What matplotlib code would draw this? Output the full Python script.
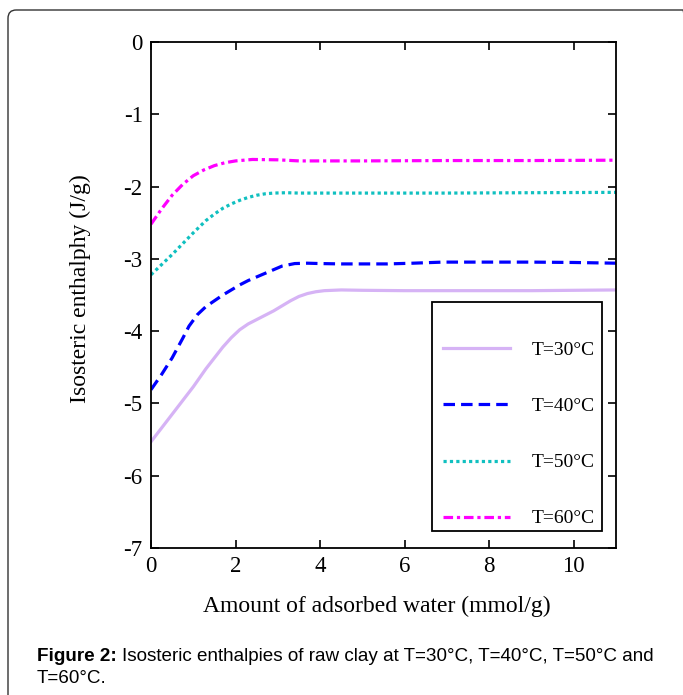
import numpy as np
import matplotlib.pyplot as plt
from matplotlib.patches import FancyBboxPatch, Rectangle

# 读数据
x30 = [0, 0.25, 0.5, 0.75, 1.0, 1.3, 1.5, 1.7, 1.9, 2.1, 2.3, 2.5, 2.7, 2.9, 3.1, 3.3, 3.5, 3.7, 3.9, 4.1, 4.5, 5, 6, 7, 8, 9, 10, 11]
y30 = [-5.53, -5.34, -5.15, -4.96, -4.77, -4.52, -4.37, -4.22, -4.09, -3.98, -3.90, -3.84, -3.78, -3.72, -3.65, -3.58, -3.52, -3.48, -3.455, -3.44, -3.43, -3.435, -3.44, -3.44, -3.44, -3.44, -3.435, -3.43]

x40 = [0, 0.25, 0.5, 0.75, 0.9, 1.1, 1.3, 1.5, 1.7, 1.9, 2.1, 2.3, 2.5, 2.7, 2.9, 3.1, 3.4, 3.7, 4.0, 4.5, 5.6, 6.2, 6.9, 8, 9, 10, 11]
y40 = [-4.81, -4.60, -4.37, -4.10, -3.93, -3.77, -3.66, -3.58, -3.50, -3.43, -3.36, -3.30, -3.25, -3.20, -3.15, -3.10, -3.065, -3.06, -3.065, -3.07, -3.07, -3.06, -3.045, -3.045, -3.045, -3.05, -3.06]

x50 = [0, 0.25, 0.5, 0.75, 1.0, 1.3, 1.5, 1.7, 1.9, 2.1, 2.3, 2.5, 2.7, 2.9, 3.2, 3.5, 5, 7, 9, 11]
y50 = [-3.22, -3.08, -2.94, -2.79, -2.64, -2.47, -2.38, -2.30, -2.24, -2.19, -2.15, -2.12, -2.10, -2.09, -2.085, -2.09, -2.09, -2.09, -2.085, -2.08]

x60 = [0, 0.25, 0.5, 0.75, 1.0, 1.25, 1.5, 1.75, 2.0, 2.4, 3.0, 3.5, 5, 7, 9, 11]
y60 = [-2.52, -2.31, -2.12, -1.97, -1.85, -1.77, -1.71, -1.67, -1.645, -1.625, -1.63, -1.645, -1.645, -1.64, -1.64, -1.635]

labels = ['T=30°C', 'T=40°C', 'T=50°C', 'T=60°C']
colors = ['#d6b3f5', '#0000ff', '#10c0c0', '#ff00ff']

plt.rcParams['axes.unicode_minus'] = False
plt.rcParams['font.family'] = 'Liberation Serif'

W, H = 683, 695
fig = plt.figure(figsize=(W / 100, H / 100), dpi=100)

# 外框
box = FancyBboxPatch((8 / W, -0.05), 1.0, 1 - 10 / H + 0.05, boxstyle='round,pad=0,rounding_size=0.012',
                     transform=fig.transFigure, fill=False, edgecolor='#333333', linewidth=1.0)
fig.patches.append(box)

ax = fig.add_axes([151 / W, (H - 548) / H, 465 / W, 506 / H])
ax.plot(x30, y30, color=colors[0], lw=2.3, ls='-', label=labels[0])
ax.plot(x40, y40, color=colors[1], lw=2.3, ls=(0, (3.6, 1.9)), label=labels[1])
ax.plot(x50, y50, color=colors[2], lw=2.3, ls=(0, (1, 1)), label=labels[2])
ax.plot(x60, y60, color=colors[3], lw=2.3, ls=(0, (3, 1.2, 1, 1.2)), label=labels[3])

ax.set_xlim(0, 11)
ax.set_ylim(-7, 0)
ax.set_xticks([0, 2, 4, 6, 8, 10])
ax.set_yticks(range(-7, 1))
ax.tick_params(direction='in', length=6, width=1.2, top=True, right=True, labelsize=16.5, pad=6)
for s in ax.spines.values():
    s.set_linewidth(1.3)

ax.set_xlabel('Amount of adsorbed water (mmol/g)', fontsize=17)
ax.xaxis.set_label_coords(0.485, -0.094)
ax.set_ylabel('Isosteric enthalphy (J/g)', fontsize=17)
ax.yaxis.set_label_coords(-0.128, 0.512)

# 图例框
ax.add_patch(Rectangle((0.605, 0.034), 0.364, 0.452, transform=ax.transAxes, fill=False,
                       edgecolor='black', linewidth=1.3, zorder=5))
leg = ax.legend(loc='upper left', bbox_to_anchor=(0.628, 0.408), borderaxespad=0, borderpad=0,
                fontsize=14, handlelength=3.45, labelspacing=1.98, handletextpad=1.1, frameon=False)

r = fig.canvas.get_renderer()
t1 = fig.text(37 / W, 1 - 661 / H, 'Figure 2:', fontsize=13.6, fontweight='bold', family='Liberation Sans', va='baseline')
bb = t1.get_window_extent(r)
fig.text((bb.x1 + 5) / W, 1 - 661 / H, 'Isosteric enthalpies of raw clay at T=30°C, T=40°C, T=50°C and',
         fontsize=13.6, family='Liberation Sans', va='baseline')
fig.text(37 / W, 1 - 683 / H, 'T=60°C.', fontsize=13.6, family='Liberation Sans', va='baseline')

fig.savefig('out.png', dpi=100)
